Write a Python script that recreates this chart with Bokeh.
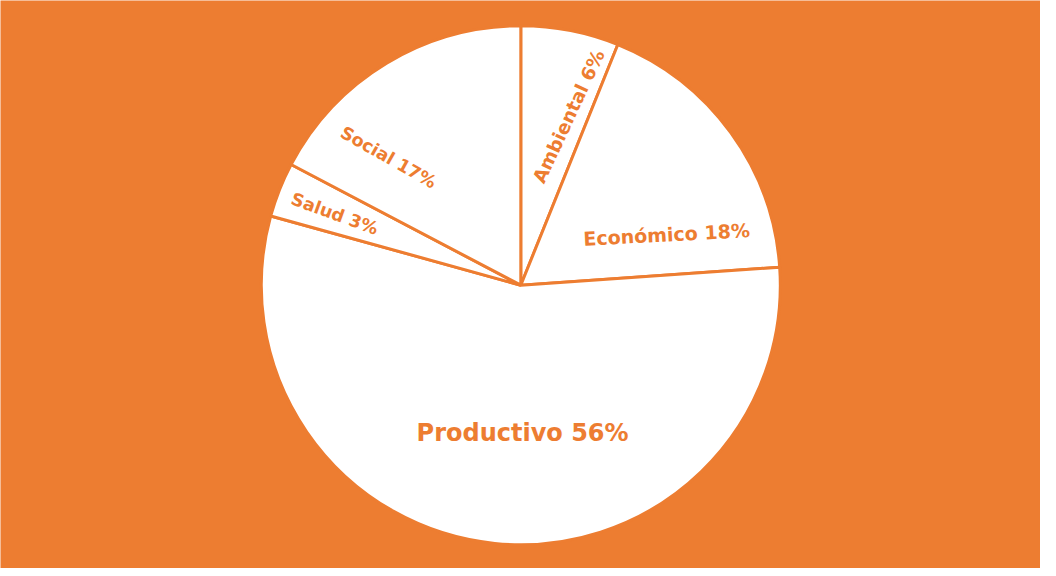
import math
from bokeh.plotting import figure
from bokeh.models import ColumnDataSource, Range1d
from bokeh.core.properties import value
from bokeh.embed import file_html
from bokeh.resources import INLINE

# ---- data ----
categories = ["Ambiental", "Económico", "Productivo", "Salud", "Social"]
values = [6.1, 17.8, 55.4, 3.4, 17.3]
pct_labels = ["6%", "18%", "56%", "3%", "17%"]

# ---- styling / layout ----
ORANGE = "#ED7D31"
W, H = 1040, 568
R_PX = 259.5
CX_PX, CY_PX = 520.3, 284.7  # centre in figure pixels (from top-left)

# label placement (angle clockwise from 12 o'clock in deg, radius fraction, rotation deg, font size)
label_pos_angle = [15.8, 70.8, 179.3, -69.0, -46.0]
label_pos_r = [0.676, 0.595, 0.568, 0.768, 0.709]
label_rot = [65.0, 3.0, 0.0, -20.0, -29.5]
label_size = ["18.5px", "19px", "24px", "17.5px", "17.5px"]

total = sum(values)
starts, ends = [], []
acc = 0.0
for v in values:
    starts.append(math.pi / 2 - acc / total * 2 * math.pi)
    acc += v
    ends.append(math.pi / 2 - acc / total * 2 * math.pi)

src = ColumnDataSource(dict(cat=categories, val=values, start=starts, end=ends))

p = figure(width=W, height=H, output_backend="svg", toolbar_location=None,
           x_range=Range1d(-CX_PX / R_PX, (W - CX_PX) / R_PX),
           y_range=Range1d(-(H - CY_PX) / R_PX, CY_PX / R_PX),
           min_border=0)
p.axis.visible = False
p.grid.visible = False
p.outline_line_color = None
p.background_fill_color = ORANGE
p.border_fill_color = ORANGE

p.wedge(x=0, y=0, radius=1, start_angle="start", end_angle="end", direction="clock",
        source=src, fill_color="white", line_color=ORANGE, line_width=3)

for i, cat in enumerate(categories):
    a = math.radians(label_pos_angle[i])
    x = label_pos_r[i] * math.sin(a)
    y = label_pos_r[i] * math.cos(a)
    p.text(x=[x], y=[y], text=[f"{cat} {pct_labels[i]}"], angle=math.radians(label_rot[i]),
           text_align="center", text_baseline="middle", text_color=ORANGE,
           text_font=value("DejaVu Sans"), text_font_style="bold", text_font_size=label_size[i])

open("out.html", "w").write(file_html(p, INLINE))
